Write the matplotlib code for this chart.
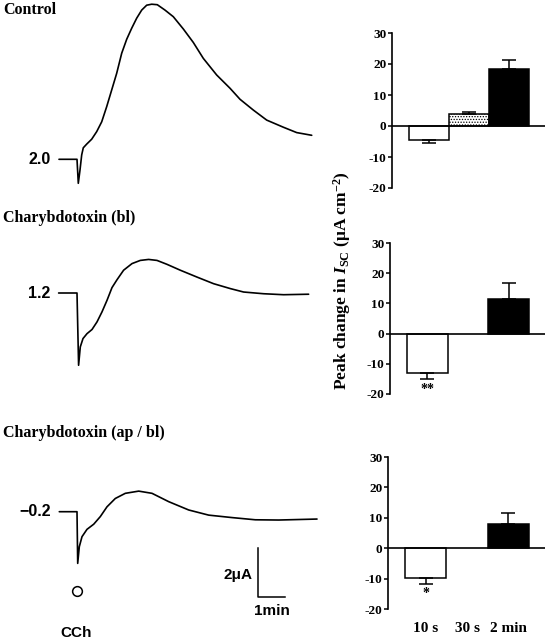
import numpy as np
import matplotlib
matplotlib.use("Agg")
import matplotlib.pyplot as plt

plt.rcParams['font.family'] = ['Liberation Serif', 'DejaVu Serif']
plt.rcParams['mathtext.fontset'] = 'custom'
plt.rcParams['mathtext.rm'] = 'Liberation Serif:bold'
plt.rcParams['mathtext.it'] = 'Liberation Serif:italic:bold'
plt.rcParams['hatch.linewidth'] = 0.6
plt.rcParams['axes.unicode_minus'] = False

# ---- trace data: time after CCh (min), change in current (uA) ----
ctrl_t = [-0.667, 0.0, 0.048, 0.111, 0.174, 0.233, 0.359, 0.544, 0.730, 0.915, 1.100,
          1.285, 1.470, 1.656, 1.841, 2.026, 2.211, 2.396, 2.581, 2.767, 2.974, 3.259,
          3.567, 3.937, 4.307, 4.678, 5.174, 5.667, 6.037, 6.530, 7.026, 7.641, 8.137, 8.693]
ctrl_i = [0.0, 0.0, -0.98, -0.44, 0.18, 0.47, 0.62, 0.82, 1.13, 1.53, 2.15,
          2.83, 3.51, 4.33, 4.90, 5.35, 5.76, 6.09, 6.29, 6.33, 6.31, 6.09,
          5.82, 5.32, 4.77, 4.12, 3.44, 2.90, 2.45, 2.01, 1.60, 1.31, 1.09, 0.98]

bl_t = [-0.681, 0.0, 0.059, 0.122, 0.222, 0.370, 0.556, 0.741, 0.926, 1.111, 1.296,
        1.481, 1.726, 2.037, 2.344, 2.652, 2.963, 3.333, 3.826, 4.444, 5.059, 5.678,
        6.170, 6.911, 7.652, 8.578]
bl_i = [0.0, 0.0, -2.95, -2.20, -1.86, -1.66, -1.49, -1.18, -0.77, -0.30, 0.22,
        0.54, 0.93, 1.20, 1.33, 1.37, 1.33, 1.17, 0.93, 0.65, 0.38, 0.18,
        0.04, -0.03, -0.07, -0.05]

apbl_t = [-0.656, 0.0, 0.026, 0.085, 0.185, 0.370, 0.619, 0.863, 1.111, 1.419, 1.789,
          2.285, 2.778, 3.396, 4.137, 4.878, 5.741, 6.604, 7.470, 8.889]
apbl_i = [0.0, 0.0, -2.11, -1.43, -1.02, -0.72, -0.51, -0.20, 0.20, 0.54, 0.75,
          0.84, 0.75, 0.41, 0.07, -0.14, -0.24, -0.33, -0.34, -0.30]

trace_titles = ["Control", "Charybdotoxin (bl)", "Charybdotoxin (ap / bl)"]
baseline_labels = ["2.0", "1.2", "\u22120.2"]

# ---- bar data: peak change in Isc (uA cm-2) ----
categories = ["10 s", "30 s", "2 min"]
ctrl_mean = [-4.5, 3.8, 18.3]
ctrl_sem = [0.9, 0.8, 3.0]
bl_mean = [-13.1, 0.0, 11.5]
bl_sem = [2.0, 0.0, 5.2]
apbl_mean = [-9.7, 0.0, 7.8]
apbl_sem = [2.0, 0.0, 3.8]
bl_stars = ["**", "", ""]
apbl_stars = ["*", "", ""]

W, H = 548, 640
fig = plt.figure(figsize=(W / 100, H / 100), dpi=100)


def fx(px):
    return px / W


def fy(py):
    return 1 - py / H


# ---- left: current traces ----
px_per_min, px_per_ua = 27.0, 24.5
cch_px = 77
axl = fig.add_axes([0, 0, 330 / W, 1])
axl.set_xlim(-cch_px / px_per_min, (330 - cch_px) / px_per_min)
axl.set_ylim(0, H / px_per_ua)
axl.axis("off")

traces = [(ctrl_t, ctrl_i), (bl_t, bl_i), (apbl_t, apbl_i)]
base_px = [159.3, 293.0, 511.7]
title_px = [10, 218, 433]
for (t, i), bpx, tpx, title, blab in zip(traces, base_px, title_px, trace_titles, baseline_labels):
    off = (H - bpx) / px_per_ua
    axl.plot(t, np.array(i) + off, color="black", lw=1.2,
             solid_joinstyle="round", solid_capstyle="round")
    axl.text(t[0] - 8 / px_per_min, off, blab, ha="right", va="center",
             fontsize=11.5, fontweight="bold", family="Liberation Sans")
    fig.text(fx(3), fy(tpx), title, ha="left", va="center", fontsize=11.5, fontweight="bold")

# scale bar: 2 uA x 1 min
sb_t = (258 - cch_px) / px_per_min
sb_y = (H - 597) / px_per_ua
axl.plot([sb_t, sb_t, sb_t + 1], [sb_y + 2, sb_y, sb_y], color="black", lw=1.1)
fig.text(fx(252), fy(575), "2\u03bcA", ha="right", va="center", fontsize=11,
         fontweight="bold", family="Liberation Sans")
fig.text(fx(272), fy(611), "1min", ha="center", va="center", fontsize=11,
         fontweight="bold", family="Liberation Sans")
axl.plot([0], [(H - 591) / px_per_ua], marker="o", ms=7, mfc="white", mec="black", mew=1.1)
fig.text(fx(76), fy(633), "CCh", ha="center", va="center", fontsize=11,
         fontweight="bold", family="Liberation Sans")

# ---- right: bar charts ----
bar_sets = [(ctrl_mean, ctrl_sem, ["", "", ""]),
            (bl_mean, bl_sem, bl_stars),
            (apbl_mean, apbl_sem, apbl_stars)]
boxes = [(392, 33, 188), (390, 243, 394), (388, 457, 609)]
faces = ["white", "white", "black"]
hatches = [None, "......", None]
x = np.arange(len(categories))

for k, ((mean, sem, stars), (lp, tp, bp)) in enumerate(zip(bar_sets, boxes)):
    ax = fig.add_axes([fx(lp), fy(bp), fx(545 - lp), (bp - tp) / H])
    ax.set_xlim(-0.925, 2.9)
    ax.set_ylim(-20, 30)
    for j in range(3):
        if mean[j] != 0:
            ax.bar(x[j], mean[j], width=1.0, color=faces[j], edgecolor="black",
                   hatch=hatches[j], lw=1.1, zorder=2)
            lo = sem[j] if mean[j] < 0 else 0
            hi = sem[j] if mean[j] > 0 else 0
            ax.errorbar(x[j], mean[j], yerr=[[lo], [hi]], fmt="none", ecolor="black",
                        elinewidth=1.1, capsize=5, capthick=1.1, zorder=3)
        if stars[j]:
            ax.text(x[j], mean[j] - sem[j] - 1.2, stars[j], ha="center", va="top",
                    fontsize=10, fontweight="bold")
    ax.axhline(0, color="black", lw=1.2, zorder=4)
    for s in ["top", "right", "bottom"]:
        ax.spines[s].set_visible(False)
    ax.spines["left"].set_linewidth(1.2)
    ax.set_yticks([-20, -10, 0, 10, 20, 30])
    ax.tick_params(axis="y", length=3, width=1.1, pad=1, labelsize=9.5)
    for lab in ax.get_yticklabels():
        lab.set_fontweight("bold")
    if k == 2:
        ax.set_xticks(x)
        ax.set_xticklabels(categories, fontsize=11, fontweight="bold")
        ax.tick_params(axis="x", length=0, pad=9)
    else:
        ax.set_xticks([])

fig.text(fx(342), fy(281), "Peak change in $I_{\\mathrm{SC}}$ (\u03bcA cm$^{-2}$)", rotation=90,
         ha="center", va="center", fontsize=12.5, fontweight="bold")

fig.savefig("out.png", dpi=100)
